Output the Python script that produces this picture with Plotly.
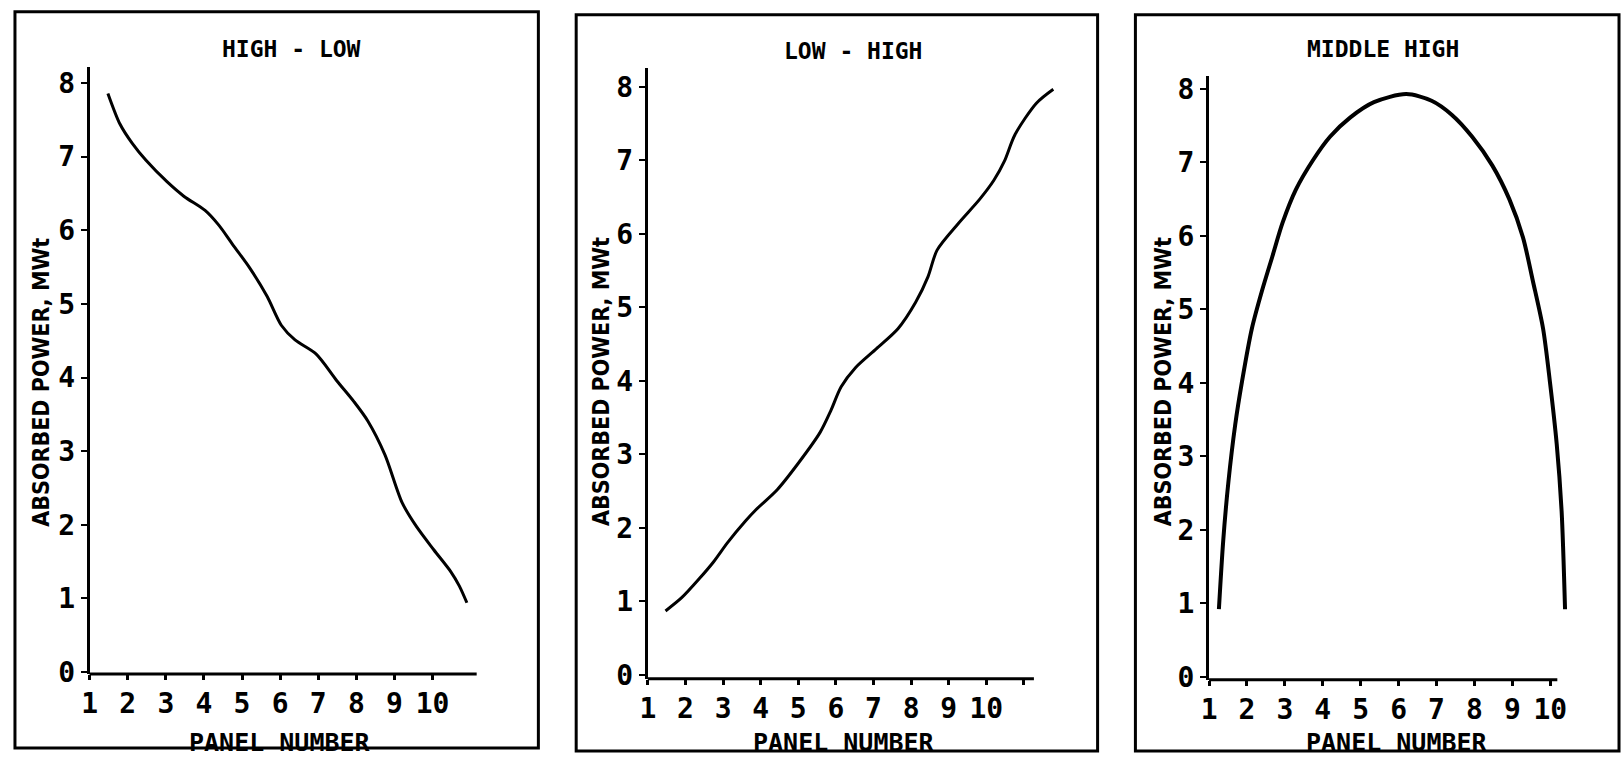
import plotly.graph_objects as go

# ---------------- data ----------------
titles = ["HIGH - LOW", "LOW - HIGH", "MIDDLE HIGH"]
y_title = "ABSORBED POWER, MWt"
x_title = "PANEL NUMBER"
y_tick_vals = [0, 1, 2, 3, 4, 5, 6, 7, 8]

high_low_x = [1.48, 1.8, 2.12, 2.48, 3.03, 3.48, 4.03, 4.39, 4.75, 5.2, 5.66, 6.03,
              6.39, 6.94, 7.48, 7.94, 8.3, 8.75, 9.2, 9.57, 10.03, 10.48, 10.7, 10.9]
high_low_y = [7.86, 7.44, 7.18, 6.95, 6.66, 6.46, 6.27, 6.07, 5.81, 5.49, 5.1, 4.71,
              4.51, 4.32, 3.96, 3.67, 3.41, 2.95, 2.3, 1.98, 1.66, 1.36, 1.17, 0.94]

low_high_x = [1.47, 1.9, 2.37, 2.75, 3.12, 3.59, 3.88, 4.44, 5.0, 5.58, 5.86, 6.14, 6.52,
              7.08, 7.65, 8.12, 8.45, 8.69, 9.25, 9.82, 10.2, 10.48, 10.76, 11.33, 11.78]
low_high_y = [0.87, 1.05, 1.31, 1.54, 1.8, 2.09, 2.25, 2.52, 2.88, 3.3, 3.59, 3.92, 4.18,
              4.44, 4.71, 5.07, 5.42, 5.78, 6.14, 6.47, 6.73, 6.99, 7.35, 7.78, 7.97]

middle_high_x = [1.26, 1.375, 1.51, 1.69, 1.87, 2.13, 2.4, 2.67, 2.94, 3.29, 3.74, 4.19,
                 4.72, 5.35, 6.2, 6.87, 7.4, 7.94, 8.47, 8.92, 9.28, 9.54, 9.81, 9.99,
                 10.17, 10.3, 10.39]
middle_high_y = [0.92, 1.86, 2.65, 3.43, 4.02, 4.74, 5.26, 5.72, 6.18, 6.63, 7.03, 7.35,
                 7.61, 7.82, 7.93, 7.84, 7.65, 7.35, 6.96, 6.5, 5.98, 5.39, 4.74, 4.02,
                 3.17, 2.25, 0.92]

x_tick_vals = [[1, 2, 3, 4, 5, 6, 7, 8, 9, 10],
               [1, 2, 3, 4, 5, 6, 7, 8, 9, 10, 11],
               [1, 2, 3, 4, 5, 6, 7, 8, 9, 10]]
x_tick_text = [["1", "2", "3", "4", "5", "6", "7", "8", "9", "10"],
               ["1", "2", "3", "4", "5", "6", "7", "8", "9", "10", ""],
               ["1", "2", "3", "4", "5", "6", "7", "8", "9", "10"]]

series_x = [high_low_x, low_high_x, middle_high_x]
series_y = [high_low_y, low_high_y, middle_high_y]

# ---------------- layout geometry (pixels) ----------------
W, H = 1622, 768
panels = [
    dict(yax=82, xunit=38.3, xmax=11.3, xend=471, xline=687, y0=685, y8=82, ytop=66,
         border=(7, 9, 533, 763), tpos=(285, 47), ypos=(33, 388), xpos=(273, 757), lw=3),
    dict(yax=643, xunit=37.8, xmax=12.0, xend=1031, xline=692, y0=688, y8=86, ytop=67,
         border=(571, 12, 1095, 766), tpos=(849, 49), ypos=(596, 388), xpos=(840, 757), lw=3),
    dict(yax=1207, xunit=38.1, xmax=10.6, xend=1557, xline=693, y0=690, y8=88, ytop=75,
         border=(1133, 12, 1619, 766), tpos=(1382, 47), ypos=(1161, 388), xpos=(1396, 757), lw=4),
]

mono = "DejaVu Sans Mono"
narrow = "DejaVu Sans Condensed, Liberation Sans Narrow, Roboto, sans-serif"

fig = go.Figure()
shapes = []
annotations = []
layout = {}

for i, p in enumerate(panels):
    n = "" if i == 0 else str(i + 1)
    fig.add_trace(go.Scatter(
        x=series_x[i], y=series_y[i], mode="lines",
        line=dict(color="black", width=p["lw"], shape="spline", smoothing=0.8),
        xaxis="x" + n, yaxis="y" + n, showlegend=False, hoverinfo="skip"))

    yunit = (p["y0"] - p["y8"]) / 8.0
    ybot = -(p["xline"] - p["y0"]) / yunit
    ytop = 8 + (p["y8"] - p["ytop"]) / yunit
    xd0 = p["yax"] / W
    xd1 = (p["yax"] + (p["xmax"] - 1) * p["xunit"]) / W

    layout["xaxis" + n] = dict(
        domain=[xd0, xd1], range=[1, p["xmax"]], anchor="y" + n,
        showgrid=False, zeroline=False, showline=False,
        tickmode="array", tickvals=x_tick_vals[i], ticktext=x_tick_text[i],
        ticks="outside", ticklen=5, tickwidth=3, tickcolor="black",
        ticklabelstandoff=0,
        tickfont=dict(family=mono, size=28, color="black", weight="bold"))
    layout["yaxis" + n] = dict(
        domain=[1 - p["xline"] / H, 1 - p["ytop"] / H], range=[ybot, ytop],
        anchor="x" + n, showgrid=False, zeroline=False,
        showline=True, linewidth=3, linecolor="black",
        tickmode="array", tickvals=y_tick_vals,
        ticks="outside", ticklen=6, tickwidth=2, tickcolor="black",
        tickfont=dict(family=mono, size=28, color="black", weight="bold"))

    # x axis line (ends before the plotting range)
    shapes.append(dict(type="line", xref="paper", yref="paper",
                       x0=p["yax"] / W, x1=p["xend"] / W,
                       y0=1 - p["xline"] / H, y1=1 - p["xline"] / H,
                       line=dict(color="black", width=3)))
    # panel frame
    bx0, by0, bx1, by1 = p["border"]
    shapes.append(dict(type="rect", xref="paper", yref="paper",
                       x0=bx0 / W, x1=bx1 / W, y0=1 - by1 / H, y1=1 - by0 / H,
                       line=dict(color="black", width=3)))

    annotations.append(dict(text=titles[i], xref="paper", yref="paper",
                            x=p["tpos"][0] / W, y=1 - p["tpos"][1] / H,
                            xanchor="center", yanchor="middle", showarrow=False,
                            font=dict(family=mono, size=23, color="black", weight="bold")))
    annotations.append(dict(text=y_title, xref="paper", yref="paper",
                            x=p["ypos"][0] / W, y=1 - p["ypos"][1] / H, textangle=-90,
                            xanchor="center", yanchor="middle", showarrow=False,
                            font=dict(family=narrow, size=23, color="black", weight="bold")))
    annotations.append(dict(text=x_title, xref="paper", yref="paper",
                            x=p["xpos"][0] / W, y=1 - p["xpos"][1] / H,
                            xanchor="center", yanchor="middle", showarrow=False,
                            font=dict(family=mono, size=25, color="black", weight="bold")))

fig.update_layout(
    width=W, height=H, margin=dict(l=0, r=0, t=0, b=0),
    paper_bgcolor="white", plot_bgcolor="white",
    shapes=shapes, annotations=annotations, **layout)

fig.write_html("out.html")
